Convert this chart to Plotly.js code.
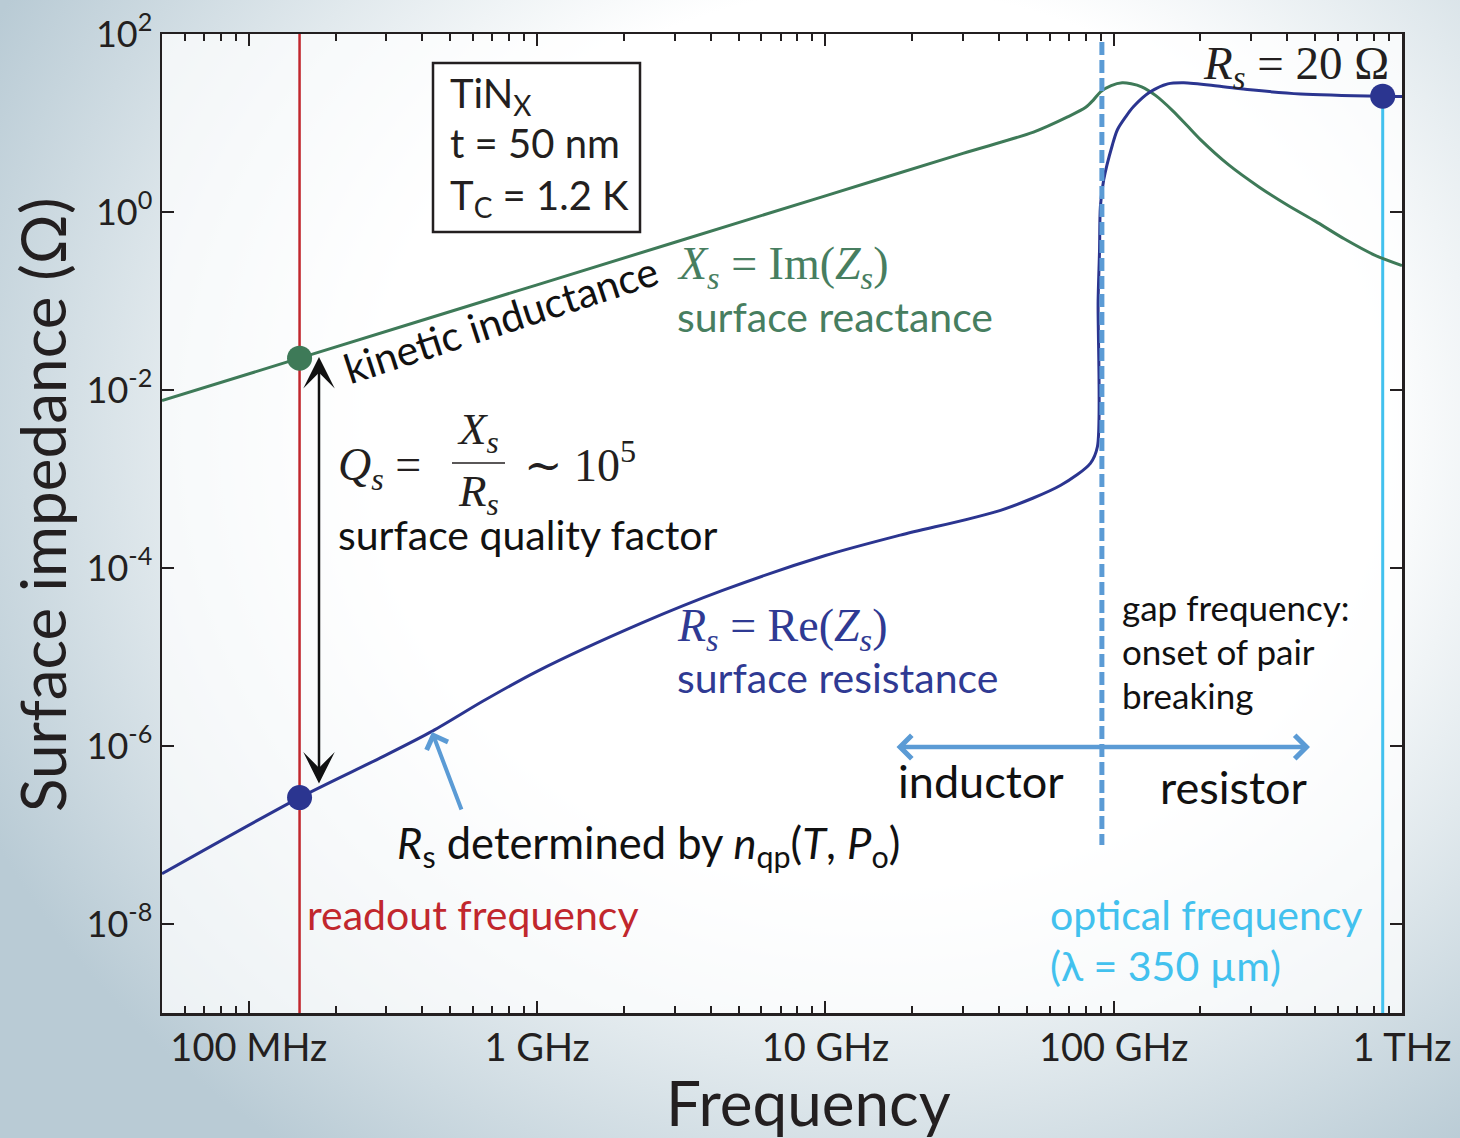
<!DOCTYPE html>
<html>
<head>
<meta charset="utf-8">
<script src="https://cdn.plot.ly/plotly-3.0.1.min.js"></script>
<style>
  html, body { margin: 0; padding: 0; width: 1460px; height: 1138px; overflow: hidden; }
  body { background: radial-gradient(ellipse 68% 78% at 60% 38%, #ffffff 50%, #e1e9ed 72%, #b9cbd5 100%); }
  #chart { width: 1460px; height: 1138px; }
</style>
</head>
<body>
<div id="chart"></div>
<script>
// ---- data: surface impedance of a 50 nm TiNx film versus frequency ----
const readoutFreq = 150e6;            // Hz
const gapFreq = 91e9;                 // Hz, pair-breaking threshold
const opticalFreq = 3e8 / 350e-6;     // Hz, lambda = 350 um
const readoutXs = 0.0228;             // Ohm
const readoutRs = 2.63e-7;            // Ohm
const opticalRs = 20;                 // Ohm

// surface reactance Xs = Im(Zs)
const freqXs = [5e7, readoutFreq, 1e9, 1e10, 3e10, 5.27e10, 6.92e10, 8.0e10, 8.51e10, 9.0e10, 9.8e10,
                1.07e11, 1.15e11, 1.25e11, 1.4e11, 1.6e11, 1.8e11, 2.0e11, 2.5e11, 3.2e11, 4.0e11,
                5.0e11, 6.3e11, 8.0e11, 1e12];
const reactance = [0.0076, readoutXs, 0.152, 1.52, 4.56, 7.9, 11.7, 15.0, 18.2, 22.4, 26.3,
                   28.3, 27.6, 25.5, 20.3, 13.8, 9.3, 6.5, 3.4, 1.9, 1.2,
                   0.79, 0.50, 0.33, 0.25];

// surface resistance Rs = Re(Zs)
const freqRs = [5e7, readoutFreq, 2.87e8, 4.35e8, 6.5e8, 1e9, 2.3e9, 4.4e9, 1e10, 1.82e10, 4.05e10,
                6.55e10, 8.3e10, 8.78e10, 8.83e10, 8.93e10, 8.99e10, 9.23e10, 9.9e10, 1.03e11, 1.1e11,
                1.17e11, 1.34e11, 1.54e11, 1.75e11, 2.29e11, 2.98e11, 4.45e11, opticalFreq, 1e12];
const resistance = [3.67e-8, readoutRs, 7.4e-7, 1.48e-6, 3.2e-6, 6.9e-6, 2.4e-5, 5.6e-5, 1.38e-4, 2.34e-4, 4.45e-4,
                    8.5e-4, 1.5e-3, 2.3e-3, 0.1, 0.37, 1.14, 2.29, 5.7, 8.4, 11.7,
                    15.2, 22.4, 27.5, 28.3, 26.1, 23.6, 21.2, opticalRs, 19.9];

// axis labels
const freqTickVals = [1e8, 1e9, 1e10, 1e11, 1e12];
const freqTickText = ['100 MHz', '1 GHz', '10 GHz', '100 GHz', '1 THz'];
const impTickVals = [1e-8, 1e-6, 1e-4, 1e-2, 1, 100];
const impTickText = ['10<sup>-8</sup>', '10<sup>-6</sup>', '10<sup>-4</sup>', '10<sup>-2</sup>', '10<sup>0</sup>', '10<sup>2</sup>'];

// ---- styling ----
const INK = '#231f20';
const GREEN = '#3e7a58', GREEN_TXT = '#477e60';
const NAVY = '#2b3590', NAVY_TXT = '#2f3a93';
const RED = '#c1272d';
const CYAN = '#42c1ee';
const STEEL = '#5b9bd5';
const SANS = 'Lato, "Open Sans", sans-serif';
const SERIF = '"Liberation Serif", "DejaVu Serif", serif';

// minor ticks: 2..9 within every decade
const minorX = [];
for (let e = 7; e < 12; e++) for (let m = 2; m <= 9; m++) minorX.push(m * Math.pow(10, e));

// plot frame in page pixels, used to place free text in paper coordinates
const M = { l: 162, r: 58, t: 34, b: 125 };
const W = 1460 - M.l - M.r, H = 1138 - M.t - M.b;
const px = x => (x - M.l) / W;
const py = y => (M.t + H - y) / H;

function label(text, x, y, size, color, extra) {
  return Object.assign({
    xref: 'paper', yref: 'paper', x: px(x), y: py(y), text: text, showarrow: false,
    xanchor: 'left', yanchor: 'middle', font: { family: SANS, size: size, color: color }
  }, extra || {});
}
function mathLabel(text, x, y, size, color, extra) {
  const a = label(text, x, y, size, color, extra);
  a.font.family = SERIF;
  return a;
}

const traces = [
  { x: freqXs, y: reactance, type: 'scatter', mode: 'lines', line: { color: GREEN, width: 3, shape: 'spline', smoothing: 0.8 }, hoverinfo: 'skip' },
  { x: freqRs, y: resistance, type: 'scatter', mode: 'lines', line: { color: NAVY, width: 3, shape: 'spline', smoothing: 0.8 }, hoverinfo: 'skip' },
  { x: [readoutFreq], y: [readoutXs], type: 'scatter', mode: 'markers', marker: { color: GREEN, size: 25 }, hoverinfo: 'skip' },
  { x: [readoutFreq, opticalFreq], y: [readoutRs, opticalRs], type: 'scatter', mode: 'markers', marker: { color: NAVY, size: 25 }, hoverinfo: 'skip' }
];

const shapes = [
  { type: 'line', xref: 'x', yref: 'paper', x0: readoutFreq, x1: readoutFreq, y0: 0, y1: 1, line: { color: RED, width: 2.5 }, layer: 'below' },
  { type: 'line', xref: 'x', yref: 'y', x0: opticalFreq, x1: opticalFreq, y0: 1e-9, y1: opticalRs, line: { color: CYAN, width: 3 }, layer: 'below' },
  { type: 'line', xref: 'x', yref: 'paper', x0: gapFreq, x1: gapFreq, y0: py(42), y1: py(845), line: { color: STEEL, width: 5, dash: '13px,5px' }, layer: 'above' },
  { type: 'rect', xref: 'paper', yref: 'paper', x0: px(433), x1: px(640), y0: py(232), y1: py(63), line: { color: INK, width: 2.5 }, fillcolor: '#ffffff', layer: 'above' },
  { type: 'line', xref: 'paper', yref: 'paper', x0: px(452), x1: px(505), y0: py(463), y1: py(463), line: { color: INK, width: 1.5 }, layer: 'above' }
];

const annotations = [
  // material box
  label('TiN<sub>X</sub>', 448, 95, 40, INK),
  label('t = 50 nm', 448, 143, 40, INK),
  label('T<sub>C</sub> = 1.2 K', 448, 197, 40, INK),

  // reactance
  label('kinetic inductance', 500, 319, 41, '#111', { xanchor: 'center', textangle: -18 }),
  mathLabel('<i>X</i><sub><i>s</i></sub> = Im(<i>Z</i><sub><i>s</i></sub>)', 675, 267, 46, GREEN_TXT),
  label('surface reactance', 675, 316, 41, GREEN_TXT),

  // resistance
  mathLabel('<i>R</i><sub><i>s</i></sub> = Re(<i>Z</i><sub><i>s</i></sub>)', 675, 629, 46, NAVY_TXT),
  label('surface resistance', 675, 677, 41, NAVY_TXT),
  mathLabel('<i>R</i><sub><i>s</i></sub> = 20 Ω', 1201, 66, 47, INK),

  // quality factor
  mathLabel('<i>Q</i><sub><i>s</i></sub> =', 336, 468, 46, INK),
  mathLabel('<i>X</i><sub><i>s</i></sub>', 478, 432, 45, INK, { xanchor: 'center' }),
  mathLabel('<i>R</i><sub><i>s</i></sub>', 478, 494, 45, INK, { xanchor: 'center' }),
  mathLabel('∼ 10<sup>5</sup>', 522, 462, 46, INK),
  label('surface quality factor', 336, 534, 41, '#111'),

  label('<i>R</i><sub>s</sub> determined by <i>n</i><sub>qp</sub>(<i>T</i>, <i>P</i><sub>o</sub>)', 395, 845, 43.5, '#111'),
  label('readout frequency', 305, 914, 41, RED),
  label('optical frequency', 1048, 914, 41, CYAN),
  label('(λ = 350 µm)', 1048, 965, 41, CYAN),

  label('gap frequency:', 1120, 607, 35, '#111'),
  label('onset of pair', 1120, 651, 35, '#111'),
  label('breaking', 1120, 695, 35, '#111'),
  label('inductor', 896, 781, 45, '#111'),
  label('resistor', 1158, 787, 45, '#111'),

  // axis titles
  label('Frequency', 808, 1102, 62, INK, { xanchor: 'center' }),
  label('Surface impedance (Ω)', 42, 505, 62, INK, { xanchor: 'center', textangle: -90 }),

  // arrows
  { xref: 'paper', yref: 'paper', x: px(319), y: py(357), ax: 0, ay: 428, text: '', showarrow: true,
    arrowhead: 3, startarrowhead: 3, arrowside: 'end+start', arrowwidth: 2.5, arrowsize: 2.1, startarrowsize: 2.1,
    arrowcolor: '#111', standoff: 0, startstandoff: 0 },
  { xref: 'paper', yref: 'paper', x: px(1310), y: py(747), ax: -415, ay: 0, text: '', showarrow: true,
    arrowhead: 4, startarrowhead: 4, arrowside: 'end+start', arrowwidth: 4.5, arrowsize: 1, startarrowsize: 1,
    arrowcolor: STEEL, standoff: 0, startstandoff: 0 },
  { xref: 'paper', yref: 'paper', x: px(432), y: py(732), ax: 30, ay: 79, text: '', showarrow: true,
    arrowhead: 4, arrowwidth: 4, arrowsize: 1.1, arrowcolor: STEEL, standoff: 0 }
];

const axisCommon = {
  type: 'log', ticks: 'inside', tickcolor: INK, tickwidth: 2, ticklen: 12,
  showline: true, linecolor: INK, linewidth: 2.5, mirror: 'ticks',
  showgrid: false, zeroline: false, tickmode: 'array'
};

const layout = {
  width: 1460, height: 1138,
  margin: { l: M.l, r: M.r, t: M.t, b: M.b, pad: 0 },
  paper_bgcolor: 'rgba(0,0,0,0)',
  plot_bgcolor: 'rgba(255,255,255,0.72)',
  showlegend: false,
  font: { family: SANS, color: INK },
  xaxis: Object.assign({}, axisCommon, {
    range: [Math.log10(5e7), 12], tickvals: freqTickVals, ticktext: freqTickText,
    tickfont: { family: SANS, size: 38, color: INK },
    minor: { tickmode: 'array', tickvals: minorX, ticks: 'inside', ticklen: 7, tickwidth: 2, tickcolor: INK, showgrid: false }
  }),
  yaxis: Object.assign({}, axisCommon, {
    range: [-9, 2], tickvals: impTickVals, ticktext: impTickText,
    tickfont: { family: SANS, size: 36, color: INK }
  }),
  shapes: shapes,
  annotations: annotations
};

Plotly.newPlot('chart', traces, layout, { staticPlot: true, displayModeBar: false });
</script>
</body>
</html>
